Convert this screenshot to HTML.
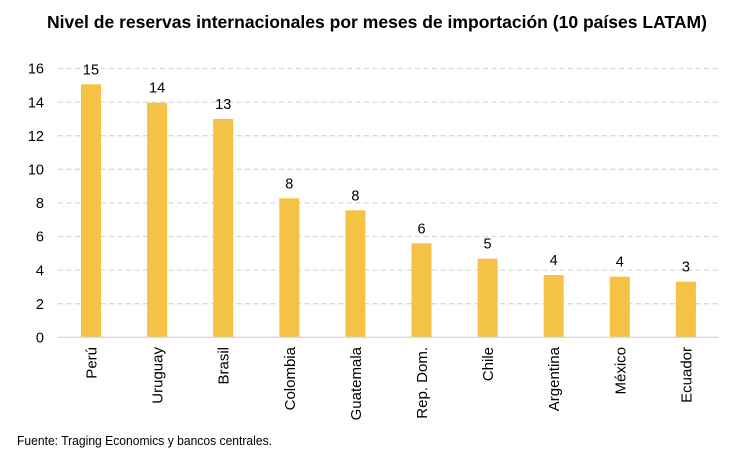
<!DOCTYPE html>
<html><head><meta charset="utf-8"><style>
html,body{margin:0;padding:0;background:#fff;}
svg{display:block;}
</style></head><body>
<svg width="750" height="463" viewBox="0 0 750 463" xmlns="http://www.w3.org/2000/svg" font-family="Liberation Sans, Arial, sans-serif">
<text x="377" y="28" text-anchor="middle" font-size="17.5" font-weight="bold" fill="#000" textLength="660" lengthAdjust="spacingAndGlyphs">Nivel de reservas internacionales por meses de importación (10 países LATAM)</text>
<g stroke="#d9d9d9" stroke-width="1.3" stroke-dasharray="5,3.5">
<line x1="58" x2="719" y1="68.5" y2="68.5"/>
<line x1="58" x2="719" y1="102.1" y2="102.1"/>
<line x1="58" x2="719" y1="135.7" y2="135.7"/>
<line x1="58" x2="719" y1="169.3" y2="169.3"/>
<line x1="58" x2="719" y1="202.9" y2="202.9"/>
<line x1="58" x2="719" y1="236.5" y2="236.5"/>
<line x1="58" x2="719" y1="270.1" y2="270.1"/>
<line x1="58" x2="719" y1="303.7" y2="303.7"/>
</g>
<g font-size="14.5" fill="#000" text-anchor="end">
<text x="44" y="73.7">16</text>
<text x="44" y="107.3">14</text>
<text x="44" y="140.9">12</text>
<text x="44" y="174.5">10</text>
<text x="44" y="208.1">8</text>
<text x="44" y="241.7">6</text>
<text x="44" y="275.3">4</text>
<text x="44" y="308.9">2</text>
<text x="44" y="342.5">0</text>
</g>
<g fill="#F4C244">
<rect x="81" y="84.3" width="20" height="253"/>
<rect x="147.1" y="102.7" width="20" height="234.6"/>
<rect x="213.2" y="119" width="20" height="218.3"/>
<rect x="279.3" y="198.3" width="20" height="139"/>
<rect x="345.4" y="210.3" width="20" height="127"/>
<rect x="411.5" y="243.3" width="20" height="94"/>
<rect x="477.6" y="258.7" width="20" height="78.6"/>
<rect x="543.7" y="275" width="20" height="62.3"/>
<rect x="609.8" y="276.7" width="20" height="60.6"/>
<rect x="675.9" y="281.7" width="20" height="55.6"/>
</g>
<line x1="58" x2="719" y1="337.3" y2="337.3" stroke="#d9d9d9" stroke-width="1.3"/>
<g font-size="14.5" fill="#000" text-anchor="middle">
<text x="91" y="74.3">15</text>
<text x="157.1" y="92.7">14</text>
<text x="223.2" y="109">13</text>
<text x="289.3" y="188.3">8</text>
<text x="355.4" y="200.3">8</text>
<text x="421.5" y="233.3">6</text>
<text x="487.6" y="248.7">5</text>
<text x="553.7" y="265">4</text>
<text x="619.8" y="266.7">4</text>
<text x="685.9" y="271.7">3</text>
</g>
<g font-size="15" fill="#000" text-anchor="end">
<text transform="translate(96.5,347) rotate(-90)">Perú</text>
<text transform="translate(162.6,347) rotate(-90)">Uruguay</text>
<text transform="translate(228.7,347) rotate(-90)">Brasil</text>
<text transform="translate(294.8,347) rotate(-90)">Colombia</text>
<text transform="translate(360.9,347) rotate(-90)">Guatemala</text>
<text transform="translate(427,347) rotate(-90)">Rep. Dom.</text>
<text transform="translate(493.1,347) rotate(-90)">Chile</text>
<text transform="translate(559.2,347) rotate(-90)">Argentina</text>
<text transform="translate(625.3,347) rotate(-90)">México</text>
<text transform="translate(691.4,347) rotate(-90)">Ecuador</text>
</g>
<text x="17" y="445" font-size="12.5" fill="#000" textLength="255" lengthAdjust="spacingAndGlyphs">Fuente: Traging Economics y bancos centrales.</text>
</svg>
</body></html>
